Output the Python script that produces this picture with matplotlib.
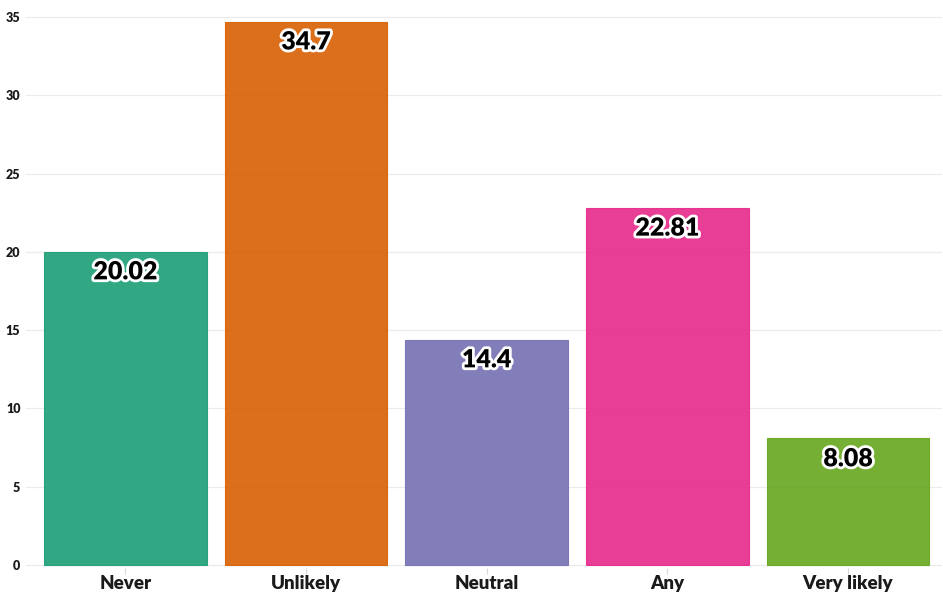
import matplotlib
matplotlib.use("Agg")
import matplotlib.pyplot as plt
import matplotlib.patheffects as pe

categories = ["Never", "Unlikely", "Neutral", "Any", "Very likely"]
values = [20.02, 34.7, 14.4, 22.81, 8.08]
labels = ["20.02", "34.7", "14.4", "22.81", "8.08"]
colors = ["#1b9e77", "#d95f02", "#7570b3", "#e7298a", "#66a61e"]
yticks = [0, 5, 10, 15, 20, 25, 30, 35]

plt.rcParams['font.family'] = ['Lato', 'DejaVu Sans']

fig = plt.figure(figsize=(9.43, 5.94), dpi=100)
W, H = 943, 594
left, right, top, bottom = 26, 942, 0, 568
ax = fig.add_axes([left / W, 1 - bottom / H, (right - left) / W, (bottom - top) / H])

x = list(range(len(categories)))
ax.bar(x, values, width=0.9, color=colors, alpha=0.9, edgecolor=colors, linewidth=0.8, zorder=2)

ax.set_xlim(-0.55, 4.52)
ax.set_ylim(-0.19, 36.08)
ax.set_yticks(yticks)
ax.set_yticklabels([str(t) for t in yticks], fontsize=9, fontweight='heavy', color='#1a1a1a')
ax.set_xticks(x)
ax.set_xticklabels(categories, fontsize=13.5, fontweight='heavy', color='#1a1a1a')
ax.tick_params(axis='y', length=0, pad=4)
ax.tick_params(axis='x', length=4, color='#d9d9d9', pad=1)
ax.grid(axis='y', color='#ebebeb', linewidth=0.9, zorder=0)
for s in ax.spines.values():
    s.set_visible(False)

for xi, v, lab in zip(x, values, labels):
    ax.annotate(lab, (xi, v), xytext=(0, -15), textcoords='offset points',
                ha='center', va='center', fontsize=18, fontweight='heavy', color='black',
                path_effects=[pe.withStroke(linewidth=4, foreground='white')], zorder=3)

fig.savefig("out.png", dpi=100)
